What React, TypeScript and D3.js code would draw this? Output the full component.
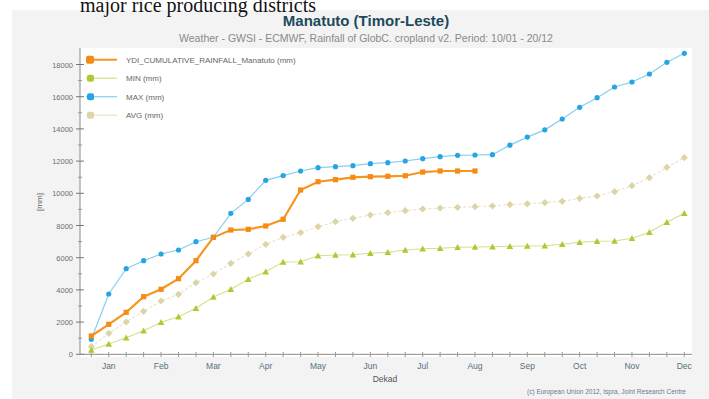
import React from "react";
import * as d3 from "d3";

const months = ["Jan", "Feb", "Mar", "Apr", "May", "Jun", "Jul", "Aug", "Sep", "Oct", "Nov", "Dec"];
const yTicks = [0, 2000, 4000, 6000, 8000, 10000, 12000, 14000, 16000, 18000];

const ydiValues = [1137, 1863, 2609, 3578, 4037, 4696, 5814, 7267, 7720, 7764, 7969, 8385, 10205, 10720, 10845, 10994, 11031, 11056, 11090, 11320, 11385, 11385, 11385];
const maxValues = [930, 3745, 5317, 5814, 6230, 6478, 6994, 7267, 8758, 9620, 10807, 11100, 11385, 11590, 11652, 11714, 11838, 11900, 12006, 12149, 12273, 12360, 12379, 12400, 12990, 13490, 13940, 14615, 15342, 15938, 16602, 16913, 17410, 18137, 18696];
const minValues = [267, 640, 1031, 1466, 1988, 2335, 2857, 3559, 4037, 4658, 5130, 5733, 5752, 6124, 6168, 6186, 6273, 6335, 6478, 6559, 6584, 6646, 6665, 6683, 6708, 6727, 6745, 6832, 6957, 7019, 7037, 7205, 7578, 8199, 8758];
const avgValues = [472, 1304, 2006, 2671, 3311, 3727, 4447, 4988, 5652, 6230, 6832, 7267, 7553, 7925, 8236, 8447, 8652, 8795, 8919, 9025, 9087, 9130, 9168, 9211, 9300, 9345, 9420, 9500, 9689, 9832, 10100, 10472, 10969, 11615, 12211];

const seriesNames = ["YDI_CUMULATIVE_RAINFALL_Manatuto (mm)", "MIN (mm)", "MAX (mm)", "AVG (mm)"];

const W = 709, H = 399;
const x = d3.scaleLinear().domain([0, 34]).range([91.3, 684.3]);
const y = d3.scaleLinear().domain([0, 18000]).range([354.3, 64.5]);

type S = { name: string; values: number[]; line: string; mark: string; width: number; shape: string; size: number; dash?: string };
const series: S[] = [
  { name: seriesNames[3], values: avgValues, line: "#e8e3c4", mark: "#ddd5a8", width: 1.1, shape: "diamond", size: 3, dash: "3,2" },
  { name: seriesNames[1], values: minValues, line: "#d6df88", mark: "#b5c634", width: 1.1, shape: "triangle", size: 3 },
  { name: seriesNames[2], values: maxValues, line: "#86cff0", mark: "#26a5e3", width: 1.2, shape: "circle", size: 2.6 },
  { name: seriesNames[0], values: ydiValues, line: "#f7961f", mark: "#f58a14", width: 2.2, shape: "square", size: 2.6 },
];
const legendOrder = [3, 1, 2, 0];

function Marker({ shape, cx, cy, r, fill }: { shape: string; cx: number; cy: number; r: number; fill: string }) {
  if (shape === "circle") return <circle cx={cx} cy={cy} r={r} fill={fill} />;
  if (shape === "square") return <rect x={cx - r} y={cy - r} width={2 * r} height={2 * r} fill={fill} />;
  if (shape === "triangle")
    return <path d={`M${cx},${cy - r * 1.1}L${cx + r * 1.1},${cy + r * 0.9}L${cx - r * 1.1},${cy + r * 0.9}Z`} fill={fill} />;
  return <path d={`M${cx},${cy - r * 1.2}L${cx + r * 1.2},${cy}L${cx},${cy + r * 1.2}L${cx - r * 1.2},${cy}Z`} fill={fill} />;
}

export default function App() {
  const line = d3
    .line<number>()
    .x((_, i) => x(i))
    .y((d) => y(d));
  const dekads = d3.range(0, 36);
  const minor = d3.range(1000, 19000, 2000);
  return (
    <svg width={W} height={H} style={{ position: "absolute", left: 0, top: 0, background: "#fff" }}>
      <rect x={12} y={10} width={W - 12} height={H - 10} fill="#f3f3f3" />
      <rect x={80} y={48} width={612} height={309} fill="#ffffff" />
      <text x={80} y={12} fontFamily="Liberation Serif, serif" fontSize={20} fill="#111">
        major rice producing districts
      </text>
      <text x={366} y={25.5} textAnchor="middle" fontFamily="Liberation Sans, Arial, sans-serif" fontWeight="bold" fontSize={15} fill="#1d4a5a">
        Manatuto (Timor-Leste)
      </text>
      <text x={366} y={42} textAnchor="middle" fontFamily="Liberation Sans, Arial, sans-serif" fontSize={10.5} fill="#8a8a8a">
        Weather - GWSI - ECMWF, Rainfall of GlobC. cropland v2. Period: 10/01 - 20/12
      </text>

      {/* y axis */}
      <line x1={80} x2={80} y1={48} y2={355} stroke="#8a8a8a" strokeWidth={1} />
      {yTicks.map((t) => (
        <g key={t}>
          <line x1={76} x2={84} y1={y(t)} y2={y(t)} stroke="#777" />
          <text x={73} y={y(t) + 3} textAnchor="end" fontFamily="Liberation Sans, Arial, sans-serif" fontSize={7.5} fill="#707070">
            {t}
          </text>
        </g>
      ))}
      {minor.map((t) => (
        <line key={t} x1={78} x2={82} y1={y(t)} y2={y(t)} stroke="#999" />
      ))}
      <text transform="translate(42,202) rotate(-90)" textAnchor="middle" fontFamily="Liberation Sans, Arial, sans-serif" fontSize={8} fill="#666">
        [mm]
      </text>

      {/* x axis */}
      <line x1={80} x2={692} y1={354.3} y2={354.3} stroke="#8a8a8a" />
      {dekads.map((i) =>
        x(i) <= 692 ? <line key={i} x1={x(i)} x2={x(i)} y1={352} y2={357} stroke="#999" /> : null
      )}
      {months.map((m, i) => (
        <text key={m} x={x(i * 3 + 1)} y={369} textAnchor="middle" fontFamily="Liberation Sans, Arial, sans-serif" fontSize={8.5} fill="#557080">
          {m}
        </text>
      ))}
      <text x={385} y={382} textAnchor="middle" fontFamily="Liberation Sans, Arial, sans-serif" fontSize={8.5} fill="#555">
        Dekad
      </text>
      <text x={527} y={394} fontFamily="Liberation Sans, Arial, sans-serif" fontSize={6.5} fill="#6a7a88">
        (c) European Union 2012, Ispra, Joint Research Centre
      </text>

      {/* series */}
      {series.map((s) => (
        <g key={s.name}>
          <path d={line(s.values) || ""} fill="none" stroke={s.line} strokeWidth={s.width} strokeDasharray={s.dash} />
          {s.values.map((v, i) => (
            <Marker key={i} shape={s.shape} cx={x(i)} cy={y(v)} r={s.size} fill={s.mark} />
          ))}
        </g>
      ))}

      {/* legend */}
      {legendOrder.map((si, k) => {
        const s = series[si];
        const ly = 59.7 + k * 18.5;
        return (
          <g key={s.name}>
            <line x1={86} x2={117} y1={ly} y2={ly} stroke={s.line} strokeWidth={k === 0 ? 2 : 1.2} />
            <rect x={k === 0 ? 86 : 87} y={ly - (k === 0 ? 4 : 3.5)} width={k === 0 ? 8 : 7} height={k === 0 ? 8 : 7} rx={2} fill={s.mark} />
            <text x={126} y={ly + 3} fontFamily="Liberation Sans, Arial, sans-serif" fontSize={8} fill="#666">
              {s.name}
            </text>
          </g>
        );
      })}
    </svg>
  );
}
